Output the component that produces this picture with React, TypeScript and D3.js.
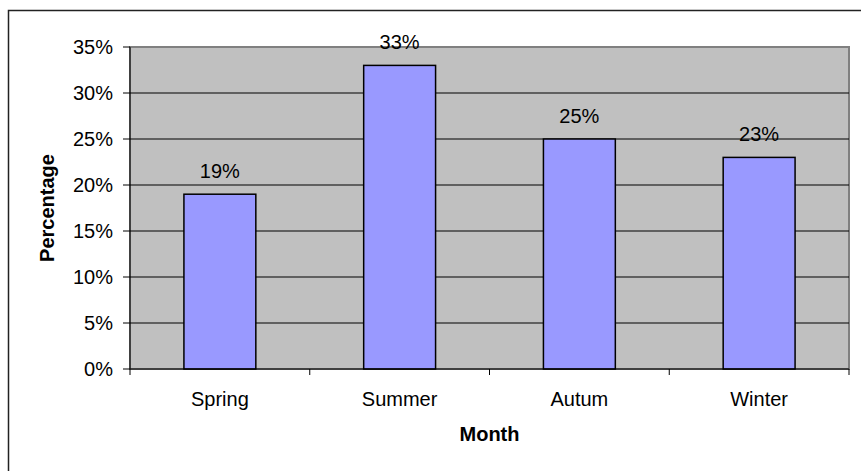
import React from "react";
import * as d3 from "d3";

const categories = ["Spring", "Summer", "Autum", "Winter"];
const values = [19, 33, 25, 23];
const yTicks = [0, 5, 10, 15, 20, 25, 30, 35];

export default function App() {
  const W = 861, H = 471;
  const left = 130, right = 849, top = 47, bottom = 369;
  const x = d3.scaleBand<string>().domain(categories).range([left, right]).paddingInner(0).paddingOuter(0);
  const y = d3.scaleLinear().domain([0, 35]).range([bottom, top]);
  const bw = x.bandwidth() / 2.5;
  const font = "'Liberation Sans', Arial, sans-serif";
  return (
    <svg width={W} height={H} style={{ position: "absolute", left: 0, top: 0, background: "#fff" }} fontFamily={font}>
      <rect x={8.5} y={10.5} width={870} height={480} fill="#fff" stroke="#222" strokeWidth={1.5} />
      <rect x={left} y={top} width={right - left} height={bottom - top} fill="#C0C0C0" stroke="#808080" strokeWidth={2} />
      {yTicks.filter(t => t > 0 && t < 35).map(t => (
        <line key={"g" + t} x1={left} x2={right} y1={y(t)} y2={y(t)} stroke="#000" strokeWidth={1} />
      ))}
      {values.map((v, i) => {
        const cx = x(categories[i])! + x.bandwidth() / 2;
        return (
          <g key={"b" + i}>
            <rect x={cx - bw / 2} y={y(v)} width={bw} height={bottom - y(v)} fill="#9999FF" stroke="#000" strokeWidth={1.5} />
            <text x={cx} y={y(v) - 16} textAnchor="middle" fontSize={20} fill="#000">{v}%</text>
          </g>
        );
      })}
      <line x1={left} x2={left} y1={top} y2={bottom} stroke="#000" strokeWidth={1} />
      <line x1={left} x2={right} y1={bottom} y2={bottom} stroke="#000" strokeWidth={1} />
      {yTicks.map(t => (
        <g key={"t" + t}>
          <line x1={left - 7} x2={left} y1={y(t)} y2={y(t)} stroke="#000" strokeWidth={1} />
          <text x={113} y={y(t) + 7} textAnchor="end" fontSize={20} fill="#000">{t}%</text>
        </g>
      ))}
      {categories.map((c, i) => (
        <line key={"xt" + i} x1={x(c)!} x2={x(c)!} y1={bottom} y2={bottom + 6} stroke="#000" strokeWidth={1} />
      ))}
      <line x1={right} x2={right} y1={bottom} y2={bottom + 6} stroke="#000" strokeWidth={1} />
      {categories.map(c => (
        <text key={"l" + c} x={x(c)! + x.bandwidth() / 2} y={406} textAnchor="middle" fontSize={20} fill="#000">{c}</text>
      ))}
      <text x={(left + right) / 2} y={441} textAnchor="middle" fontSize={20} fontWeight="bold" fill="#000">Month</text>
      <text transform={`translate(54,${(top + bottom) / 2}) rotate(-90)`} textAnchor="middle" fontSize={20} fontWeight="bold" fill="#000">Percentage</text>
    </svg>
  );
}
